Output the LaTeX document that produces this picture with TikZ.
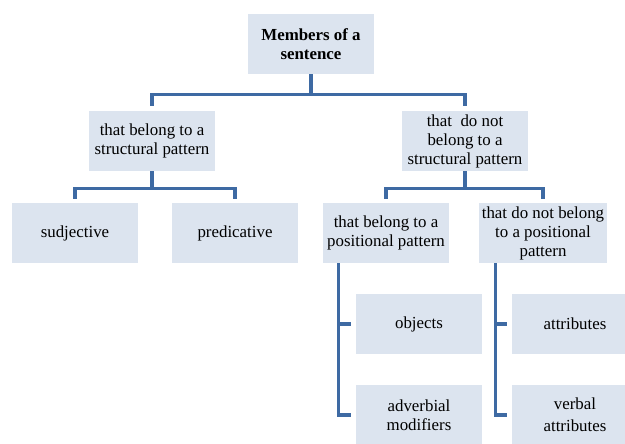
\documentclass[tikz,border=0pt]{standalone}
\usepackage{fontspec}
\setmainfont{Liberation Serif}
\definecolor{boxfill}{RGB}{220,228,239}
\definecolor{linkblue}{RGB}{62,106,163}
\tikzset{
  member/.style={fill=boxfill, minimum width=3.15cm, minimum height=1.5cm,
    align=center, inner sep=2pt, font=\fontsize{12}{13.5}\selectfont},
  link/.style={draw=linkblue, line width=2.2pt, shorten >=3pt}
}
\begin{document}
\begin{tikzpicture}[x=0.025cm, y=-0.025cm]
      \useasboundingbox (0,0) rectangle (625,443);
      \clip (0,0) rectangle (625,443);
      \draw
        (311,44) node[member, font=\fontsize{12}{13.5}\selectfont\bfseries] (root){Members of a\\sentence}
        (152,141) node[member] (struct){that belong to a\\structural pattern}
        (465,141) node[member] (nonstruct){that~ do not\\belong to a\\structural pattern}
        (75,233) node[member] (subj){sudjective}
        (235,233) node[member] (pred){predicative}
        (386,233) node[member] (pos){that belong to a\\positional pattern}
        (543,233) node[member] (nonpos){that do not belong\\to a positional\\pattern}
        (419,324) node[member] (obj){objects}
        (419,415) node[member] (adv){adverbial\\modifiers}
        (575,324) node[member] (attr){attributes}
        (575,415) node[member] (verb){verbal\\[2pt]attributes};
      \begin{scope}[link]
        \draw (root.south) -- ++(0,20) -| (struct.north);
        \draw (root.south) -- ++(0,20) -| (nonstruct.north);
        \draw (struct.south) -- ++(0,17) -| (subj.north);
        \draw (struct.south) -- ++(0,17) -| (pred.north);
        \draw (nonstruct.south) -- ++(0,17) -| (pos.north);
        \draw (nonstruct.south) -- ++(0,17) -| (nonpos.north);
        \draw ([xshift=11]pos.south west) |- (obj.west);
        \draw ([xshift=11]pos.south west) |- (adv.west);
        \draw ([xshift=12]nonpos.south west) |- (attr.west);
        \draw ([xshift=12]nonpos.south west) |- (verb.west);
      \end{scope}
    \end{tikzpicture}
\end{document}
